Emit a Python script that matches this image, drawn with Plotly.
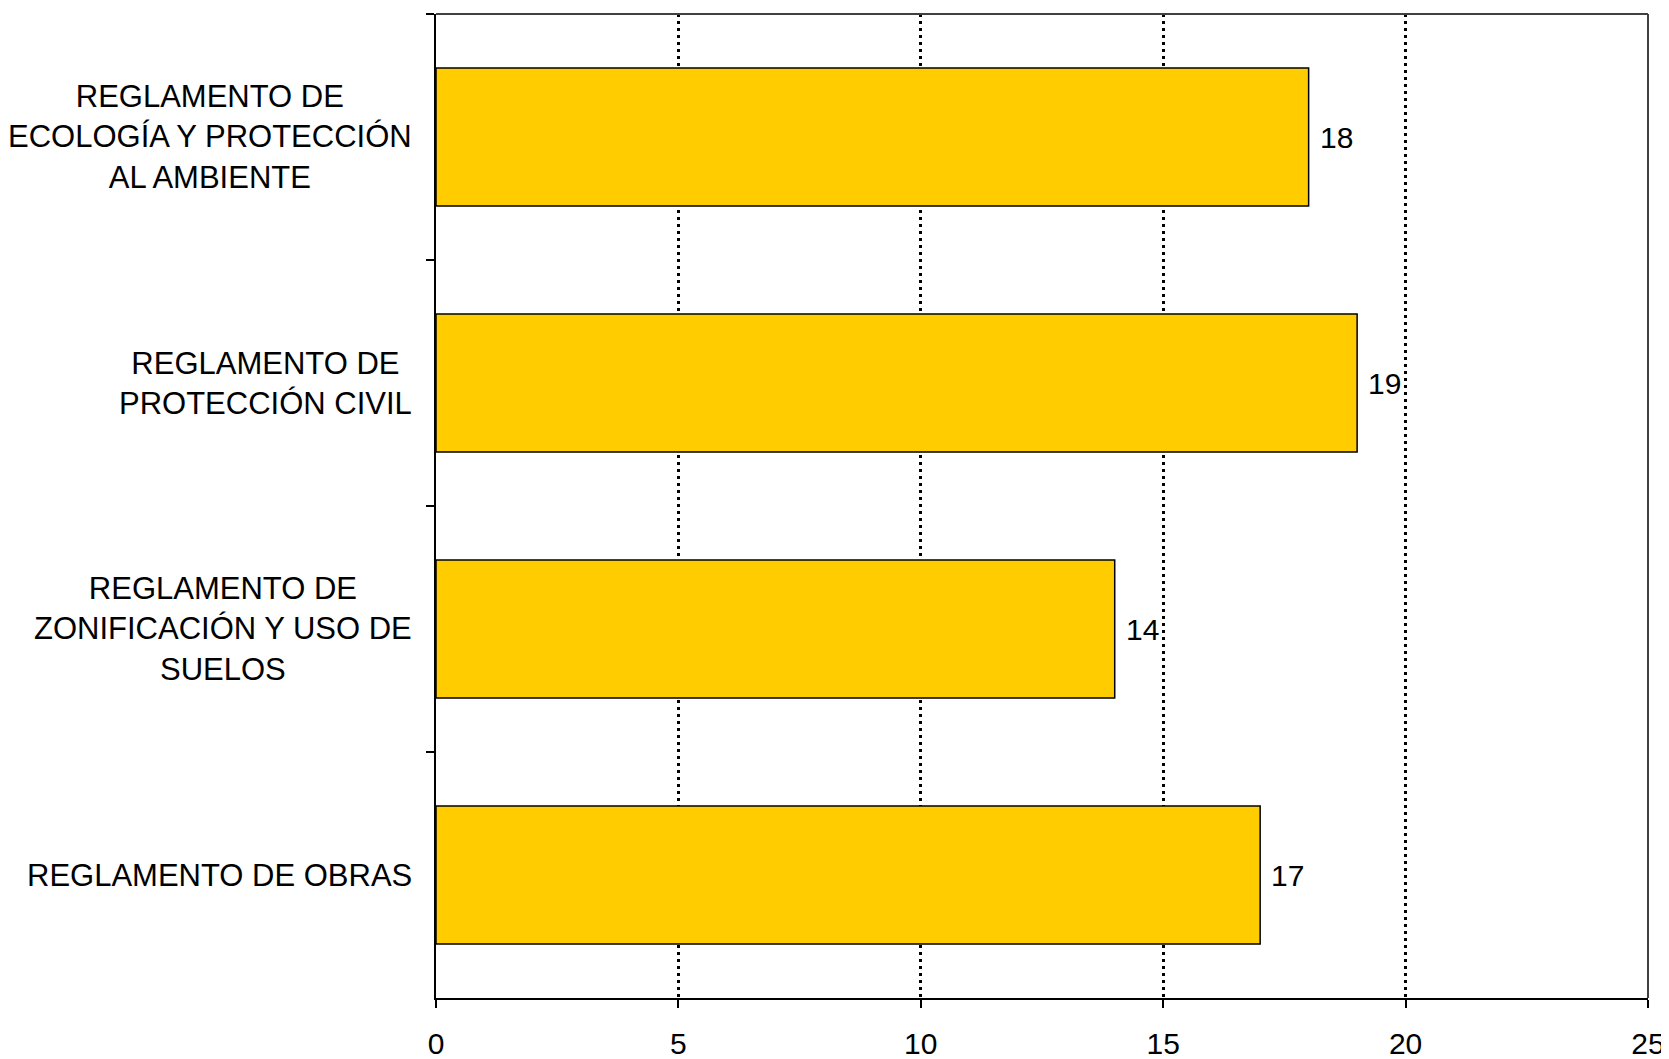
import plotly.graph_objects as go

categories = [
    "REGLAMENTO DE<br>ECOLOGÍA Y PROTECCIÓN<br>AL AMBIENTE",
    "REGLAMENTO DE<br>PROTECCIÓN CIVIL",
    "REGLAMENTO DE<br>ZONIFICACIÓN Y USO DE<br>SUELOS",
    "REGLAMENTO DE OBRAS",
]
values = [18, 19, 14, 17]
x_ticks = [0, 5, 10, 15, 20, 25]

FONT = "Liberation Sans, Arial, sans-serif"

fig = go.Figure()
fig.add_trace(go.Bar(
    y=categories,
    x=values,
    orientation="h",
    marker=dict(color="#FFCC00", line=dict(color="black", width=1.5)),
    width=0.56,
    hoverinfo="x+y",
))

for c in categories:
    fig.add_annotation(
        x=0, xref="paper", y=c, yref="y",
        text=c, showarrow=False, xanchor="right", align="center",
        xshift=-22, font=dict(family=FONT, size=31, color="black"),
    )

for c, v in zip(categories, values):
    fig.add_annotation(
        x=v, xref="x", y=c, yref="y",
        text=str(v), showarrow=False, xanchor="left",
        xshift=9, font=dict(family=FONT, size=30, color="black"),
    )

fig.update_layout(
    width=1661, height=1051,
    margin=dict(l=428, r=21, t=6, b=61, autoexpand=False),
    paper_bgcolor="white", plot_bgcolor="white",
    showlegend=False,
    font=dict(family=FONT, size=30, color="black"),
    xaxis=dict(
        range=[0, 25], tickvals=x_ticks, ticktext=[str(t) for t in x_ticks],
        showgrid=True, gridcolor="black", griddash="3px,4px", gridwidth=2.5,
        showline=True, linecolor="black", linewidth=2,
        ticks="outside", ticklen=8, tickwidth=2, tickcolor="black",
        ticklabelstandoff=10, automargin=False,
        tickfont=dict(family=FONT, size=30, color="black"),
        zeroline=False,
    ),
    yaxis=dict(
        autorange="reversed", showticklabels=False, automargin=False,
        showline=True, linecolor="black", linewidth=2,
        ticks="outside", tickson="boundaries", ticklen=8, tickwidth=2,
        tickcolor="black", showgrid=False, zeroline=False,
    ),
    shapes=[
        dict(type="line", xref="paper", yref="paper", x0=0, x1=1, y0=1, y1=1,
             line=dict(color="#404040", width=2)),
        dict(type="line", xref="paper", yref="paper", x0=1, x1=1, y0=0, y1=1,
             line=dict(color="#404040", width=2)),
    ],
)

fig.write_html("out.html")
